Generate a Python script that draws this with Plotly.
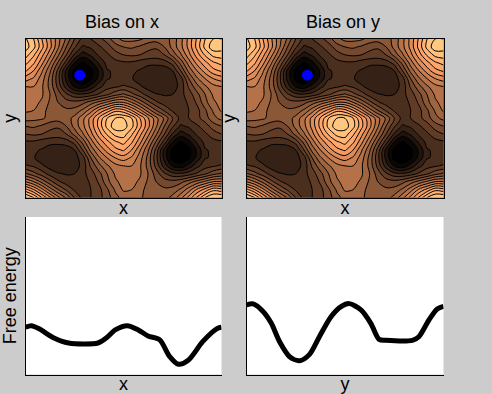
import plotly.graph_objects as go

# Values read off the upper two quadrants of the map; the picture repeats them
# shifted by half a period, so the lower quadrants are the same readings swapped.
upper_left = [
    [.97, .90, .78, .67, .56, .47, .36, .28, .30, .34, .39, .46, .50],
    [.99, .92, .80, .68, .55, .42, .31, .23, .25, .29, .33, .39, .42],
    [.93, .85, .74, .62, .49, .36, .23, .15, .19, .25, .29, .33, .36],
    [.86, .79, .68, .55, .41, .27, .12, .05, .10, .19, .26, .28, .29],
    [.79, .72, .61, .49, .34, .16, .04, .01, .04, .13, .235, .25, .25],
    [.69, .65, .57, .46, .32, .16, .04, .01, .05, .14, .235, .25, .25],
    [.60, .60, .55, .46, .34, .21, .11, .08, .14, .22, .275, .29, .31],
    [.57, .58, .55, .48, .39, .31, .26, .25, .27, .31, .35, .40, .43],
    [.56, .56, .53, .47, .42, .39, .38, .40, .45, .50, .55, .60, .60],
    [.55, .54, .50, .46, .43, .43, .44, .49, .57, .67, .74, .82, .80],
    [.51, .50, .49, .46, .45, .45, .50, .58, .68, .79, .90, .96, .96],
]
upper_right = [
    [.50, .50, .49, .46, .45, .45, .50, .58, .68, .79, .90, .96, .96],
    [.42, .43, .41, .38, .37, .42, .50, .58, .68, .80, .92, 1.0, .99],
    [.36, .37, .36, .34, .33, .36, .44, .53, .64, .75, .85, .92, .93],
    [.29, .29, .27, .26, .26, .27, .32, .44, .57, .68, .76, .83, .86],
    [.25, .25, .235, .205, .195, .20, .24, .36, .50, .60, .69, .76, .79],
    [.25, .245, .21, .195, .19, .195, .215, .27, .42, .53, .60, .66, .69],
    [.31, .29, .25, .215, .195, .19, .21, .26, .37, .46, .53, .58, .60],
    [.43, .38, .33, .275, .245, .235, .24, .28, .33, .40, .48, .55, .57],
    [.60, .54, .46, .38, .31, .27, .25, .27, .31, .37, .46, .53, .56],
    [.80, .72, .62, .51, .42, .35, .29, .27, .30, .34, .41, .49, .55],
    [.97, .90, .78, .67, .56, .47, .36, .28, .30, .34, .39, .46, .50],
]

surface = [a + b[1:] for a, b in zip(upper_left, upper_right)]
surface += [a + b[1:] for a, b in zip(upper_right[1:], upper_left[1:])]
grid_x = [i / 24 for i in range(25)]
grid_y = [1 - i / 20 for i in range(21)]

marker_x = [0.277, 0.309]
marker_y = [0.772, 0.772]

fe_x_pos = [0, .03, .07, .14, .22, .37, .41, .46, .52, .575, .625, .685, .735, .78, .83, .905, .975, 1]
fe_x_val = [.30, .31, .29, .235, .20, .20, .23, .285, .31, .283, .245, .22, .115, .065, .09, .21, .29, .30]
fe_y_pos = [0, .034, .084, .126, .168, .219, .269, .32, .37, .429, .48, .522, .581, .631, .673, .707, .842, .875, .926, .968, 1]
fe_y_val = [.442, .448, .40, .325, .208, .113, .087, .128, .24, .367, .431, .45, .41, .325, .223, .217, .217, .24, .346, .416, .433]

titles = ["Bias on x", "Bias on y"]
text_color = "#000000"
font = "Liberation Sans"
colorscale = [[0, "#000000"], [0.8, "#ffa066"], [1, "#ffc77f"]]

fig = go.Figure()
W, H = 492, 394
domains_x = [(25.5 / W, 221.5 / W), (246.5 / W, 443.5 / W)]
dom_top = (1 - 197.5 / H, 1 - 39 / H)
dom_bot = (1 - 374.5 / H, 1 - 217 / H)

for i in range(2):
    n = i * 2 + 1
    xa, ya = f"x{n if n > 1 else ''}", f"y{n if n > 1 else ''}"
    fig.add_trace(go.Contour(
        x=grid_x, y=grid_y, z=surface, xaxis=xa, yaxis=ya,
        autocontour=False, contours=dict(start=0.06, end=1.0, size=0.06, coloring="fill"),
        zmin=0, zmax=1, colorscale=colorscale, showscale=False,
        line=dict(color="black", width=1, smoothing=1.0),
    ))
    fig.add_trace(go.Scatter(
        x=[marker_x[i]], y=[marker_y[i]], xaxis=xa, yaxis=ya, mode="markers",
        marker=dict(color="#0000ff", size=11),
    ))

fig.add_trace(go.Scatter(x=fe_x_pos, y=fe_x_val, xaxis="x2", yaxis="y2", mode="lines",
                         line=dict(color="black", width=5, shape="spline", smoothing=0.8)))
fig.add_trace(go.Scatter(x=fe_y_pos, y=fe_y_val, xaxis="x4", yaxis="y4", mode="lines",
                         line=dict(color="black", width=5, shape="spline", smoothing=0.8)))

def axis(domain, anchor, title, mirror, standoff, size=18):
    return dict(domain=domain, anchor=anchor, range=[0, 1], showgrid=False, zeroline=False,
                showticklabels=False, ticks="", showline=True, linecolor="black", linewidth=1,
                mirror=mirror, automargin=False,
                title=dict(text=title, font=dict(size=size, color=text_color, family=font), standoff=standoff))

fig.update_layout(
    width=W, height=H, showlegend=False,
    margin=dict(l=0, r=0, t=0, b=0),
    paper_bgcolor="#cccccc", plot_bgcolor="#ffffff",
    font=dict(family=font, color=text_color),
    xaxis=axis(domains_x[0], "y", "x", True, 3),
    yaxis=axis(dom_top, "x", "y", True, 5),
    xaxis3=axis(domains_x[1], "y3", "x", True, 3),
    yaxis3=axis(dom_top, "x3", "y", True, 5),
    xaxis2=axis(domains_x[0], "y2", "x", False, 3),
    yaxis2=axis(dom_bot, "x2", "Free energy", False, 5),
    xaxis4=axis(domains_x[1], "y4", "y", False, 3),
    yaxis4=axis(dom_bot, "x4", "", False, 0),
    annotations=[
        dict(text=titles[0], x=122 / W, y=1 - 22 / H, xref="paper", yref="paper", showarrow=False,
             xanchor="center", yanchor="middle", font=dict(size=18, color=text_color, family=font)),
        dict(text=titles[1], x=343 / W, y=1 - 22 / H, xref="paper", yref="paper", showarrow=False,
             xanchor="center", yanchor="middle", font=dict(size=18, color=text_color, family=font)),
    ],
)

fig.write_html("out.html", config=dict(displayModeBar=False),
               post_script="document.body.style.margin='0';document.body.style.background='#cccccc';")
